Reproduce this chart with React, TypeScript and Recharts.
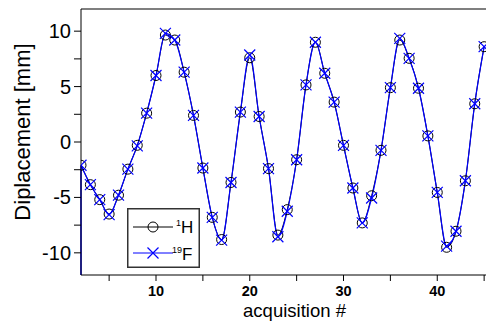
import React from "react";
import {
  LineChart,
  Line,
  XAxis,
  YAxis,
  ReferenceLine,
  Label,
} from "recharts";

// acquisition numbers
const acquisitions = [
  2, 3, 4, 5, 6, 7, 8, 9, 10, 11, 12, 13, 14, 15, 16, 17, 18, 19, 20, 21, 22, 23,
  24, 25, 26, 27, 28, 29, 30, 31, 32, 33, 34, 35, 36, 37, 38, 39, 40, 41, 42, 43,
  44, 45,
];

// displacement [mm], 1H navigator
const hDisp = [
  -2.1, -3.85, -5.2, -6.5, -4.8, -2.45, -0.3, 2.6, 6.0, 9.65, 9.2, 6.3, 2.4, -2.35,
  -6.8, -8.8, -3.65, 2.7, 7.6, 2.3, -2.4, -8.4, -6.1, -1.6, 5.15, 9.0, 6.2, 3.6,
  -0.3, -4.15, -7.3, -4.85, -0.75, 4.9, 9.2, 7.55, 4.85, 0.55, -4.55, -9.5, -8.05,
  -3.5, 3.45, 8.6,
];

// displacement [mm], 19F navigator
const fDisp = [
  -2.1, -3.85, -5.2, -6.55, -4.8, -2.45, -0.35, 2.6, 6.0, 9.8, 9.2, 6.3, 2.4, -2.35,
  -6.8, -8.85, -3.65, 2.7, 7.85, 2.3, -2.4, -8.55, -6.25, -1.6, 5.15, 9.0, 6.2, 3.6,
  -0.3, -4.15, -7.3, -5.05, -0.75, 4.9, 9.35, 7.55, 4.85, 0.55, -4.55, -9.4, -8.05,
  -3.5, 3.45, 8.6,
];

const xTicks = [5, 10, 15, 20, 25, 30, 35, 40, 45];
const yTicks = [-10, -7.5, -5, -2.5, 0, 2.5, 5, 7.5, 10];
const xDomain = [2, 45.2];
const yDomain = [-12, 12];

const data = acquisitions.map((a, i) => ({ acq: a, h: hDisp[i], f: fDisp[i] }));

const FONT = "'Liberation Sans', Arial, sans-serif";

const XTick = (props: any) => {
  const { x, y, payload } = props;
  if (payload.value % 10 !== 0) return null;
  return (
    <text x={x} y={y + 13} textAnchor="middle" fontFamily={FONT} fontSize={14.5} fontWeight="bold" fill="#000">
      {payload.value}
    </text>
  );
};

const YTick = (props: any) => {
  const { x, y, payload } = props;
  if (payload.value % 5 !== 0) return null;
  return (
    <text x={x - 1} y={y + 7} textAnchor="end" fontFamily={FONT} fontSize={20} fill="#000">
      {payload.value}
    </text>
  );
};

const CircleDot = (props: any) => {
  const { cx, cy } = props;
  if (cx == null || cy == null) return null;
  return <circle cx={cx} cy={cy} r={5} fill="none" stroke="#000" strokeWidth={1} />;
};

const CrossDot = (props: any) => {
  const { cx, cy } = props;
  if (cx == null || cy == null) return null;
  const s = 5.5;
  return (
    <path
      d={`M${cx - s},${cy - s}L${cx + s},${cy + s}M${cx - s},${cy + s}L${cx + s},${cy - s}`}
      stroke="#0000ff"
      strokeWidth={1.2}
      fill="none"
    />
  );
};

const XTitle = (props: any) => {
  const { viewBox } = props;
  return (
    <text x={viewBox.x + viewBox.width / 2 + 11} y={317} textAnchor="middle" fontFamily={FONT} fontSize={18.5} fill="#000">
      acquisition #
    </text>
  );
};

const YTitle = (props: any) => {
  const { viewBox } = props;
  const cy = viewBox.y + viewBox.height / 2 - 10;
  return (
    <text
      x={30}
      y={cy}
      transform={`rotate(-90, 30, ${cy})`}
      textAnchor="middle"
      fontFamily={FONT}
      fontSize={22}
      fill="#000"
    >
      Diplacement [mm]
    </text>
  );
};

const LegendBox = () => (
  <svg width={73} height={60} style={{ display: "block" }}>
    <rect x={0.75} y={0.75} width={71.5} height={58.5} fill="#fff" stroke="#333" strokeWidth={1.5} />
    <line x1={6} x2={46} y1={19} y2={19} stroke="#000" strokeWidth={1} />
    <circle cx={26} cy={19} r={5} fill="none" stroke="#000" strokeWidth={1} />
    <text x={49} y={25} fontFamily={FONT} fontSize={17} fill="#000">
      <tspan fontSize={9} dy={-7}>1</tspan>
      <tspan dy={7}>H</tspan>
    </text>
    <line x1={6} x2={46} y1={45} y2={45} stroke="#0000ff" strokeWidth={1} />
    <path d="M20.5,39.5L31.5,50.5M20.5,50.5L31.5,39.5" stroke="#0000ff" strokeWidth={1.2} />
    <text x={45} y={52} fontFamily={FONT} fontSize={17} fill="#000">
      <tspan fontSize={9} dy={-7}>19</tspan>
      <tspan dy={7}>F</tspan>
    </text>
  </svg>
);

export default function App() {
  return (
    <div style={{ position: "absolute", left: 0, top: 0, width: 486, height: 321, background: "#fff", overflow: "hidden" }}>
      <LineChart width={486} height={321} data={data} margin={{ top: 9, right: 0, bottom: 0, left: 0 }}>
        <XAxis
          dataKey="acq"
          type="number"
          domain={xDomain}
          ticks={xTicks}
          allowDataOverflow
          tick={<XTick />}
          tickSize={6}
          tickLine={{ stroke: "#000" }}
          axisLine={{ stroke: "#000" }}
          height={46}
        >
          <Label content={<XTitle />} />
        </XAxis>
        <YAxis
          type="number"
          domain={yDomain}
          ticks={yTicks}
          allowDataOverflow
          tick={<YTick />}
          tickSize={7}
          tickLine={{ stroke: "#000" }}
          axisLine={{ stroke: "#000" }}
          width={81}
        >
          <Label content={<YTitle />} />
        </YAxis>
        <ReferenceLine y={yDomain[1]} stroke="#000" strokeWidth={1.2} />
        <ReferenceLine
          segment={[
            { x: acquisitions[0], y: yDomain[0] },
            { x: acquisitions[0], y: fDisp[0] },
          ]}
          stroke="#0000ff"
          strokeWidth={1.5}
        />
        <Line
          type="monotone"
          dataKey="h"
          stroke="#000"
          strokeWidth={1}
          dot={<CircleDot />}
          activeDot={false}
          isAnimationActive={false}
        />
        <Line
          type="monotone"
          dataKey="f"
          stroke="#0000ff"
          strokeWidth={1.2}
          dot={<CrossDot />}
          activeDot={false}
          isAnimationActive={false}
        />
      </LineChart>
      <div style={{ position: "absolute", left: 127, top: 208 }}>
        <LegendBox />
      </div>
    </div>
  );
}
